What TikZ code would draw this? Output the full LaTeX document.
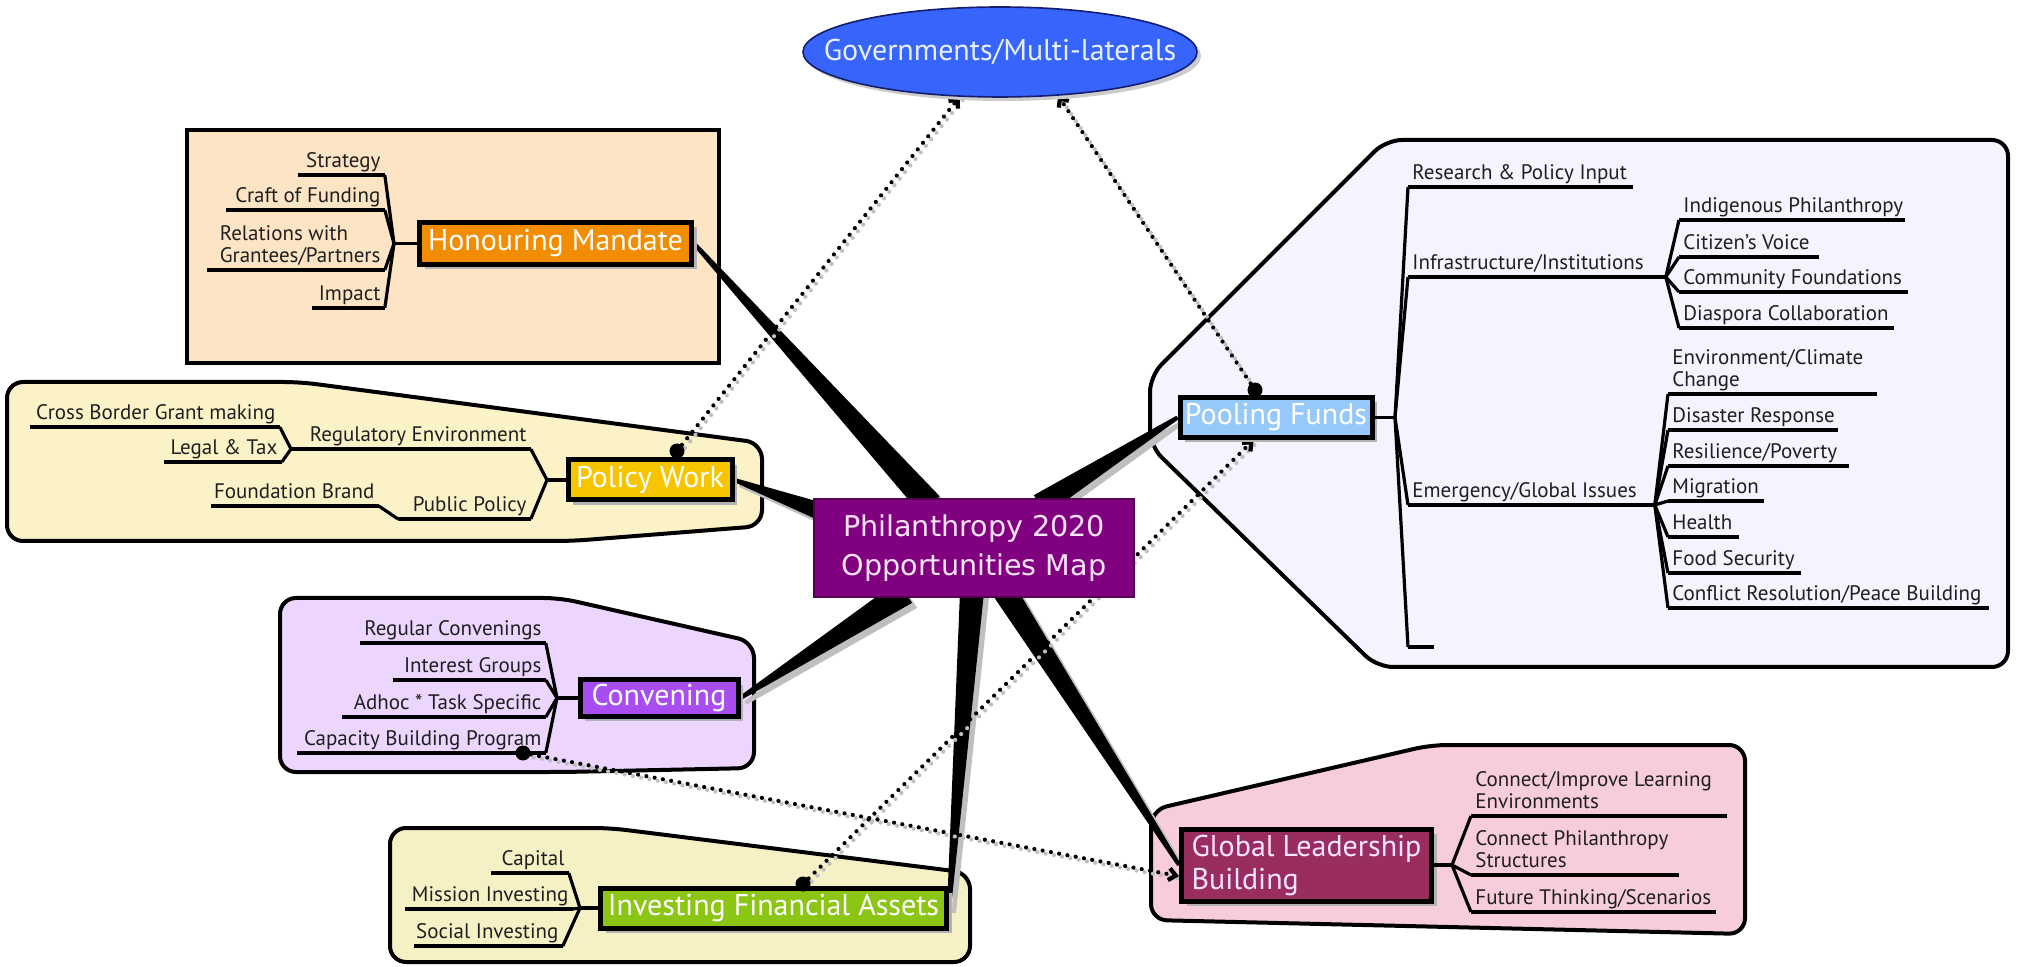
\documentclass[tikz,border=0pt]{standalone}
\usepackage{fontspec}
\setmainfont{PT Sans}
\newfontfamily\dvsans{DejaVu Sans}
\usetikzlibrary{shapes.geometric,calc,arrows.meta,shadows}
\definecolor{hmpanel}{RGB}{253,228,196}
\definecolor{pwpanel}{RGB}{252,242,200}
\definecolor{cvpanel}{RGB}{236,214,255}
\definecolor{ifapanel}{RGB}{245,241,196}
\definecolor{pfpanel}{RGB}{244,243,255}
\definecolor{glbpanel}{RGB}{248,205,219}
\definecolor{hmbox}{RGB}{242,140,0}
\definecolor{pwbox}{RGB}{247,196,0}
\definecolor{cvbox}{RGB}{168,78,240}
\definecolor{ifabox}{RGB}{140,198,20}
\definecolor{pfbox}{RGB}{150,200,250}
\definecolor{glbbox}{RGB}{153,45,95}
\definecolor{ctrfill}{RGB}{128,0,128}
\definecolor{ctrborder}{RGB}{80,0,80}
\definecolor{ctrtext}{RGB}{255,228,255}
\definecolor{govfill}{RGB}{55,100,250}
\definecolor{govborder}{RGB}{20,30,110}
\definecolor{govtext}{RGB}{232,240,255}
\pgfdeclarelayer{bg}
\pgfdeclarelayer{mid}
\pgfsetlayers{bg,mid,main}
% label with underline: name, left x, right x, underline y, alignment (l/r), text
\newcommand\mylab[6]{%
  \pgfmathsetmacro\labw{(#3-#2)/2-4}%
  \node[labtext,anchor=south west] (#1) at (#2,#4) {\makebox[\labw pt][#5]{#6}};%
  \draw[uline] (#1.south west) -- (#1.south east);}
% tapered connector: thin end, thick end, thin half width, thick half width
\newcommand\mytaper[4]{%
  \fill[black!25, transform canvas={shift={(2.5pt,-2.5pt)}}] ($(#1)!#3!90:(#2)$) -- ($(#1)!#3!-90:(#2)$) -- ($(#2)!#4!90:(#1)$) -- ($(#2)!#4!-90:(#1)$) -- cycle;%
  \fill[black] ($(#1)!#3!90:(#2)$) -- ($(#1)!#3!-90:(#2)$) -- ($(#2)!#4!90:(#1)$) -- ($(#2)!#4!-90:(#1)$) -- cycle;}
\newcommand\twolines[2]{\begin{tabular}[b]{@{}l@{}}#1\\#2\end{tabular}}
\begin{document}
\begin{tikzpicture}[x=0.5pt,y=-0.5pt,
  labtext/.style={font=\fontsize{10.5}{11}\selectfont, text=black!88, inner xsep=2pt, inner ysep=0pt, text depth=3.5pt},
  uline/.style={line width=1.6pt},
  brline/.style={line width=1.6pt},
  panelshape/.style={draw=black, line width=2pt, rounded corners=8pt},
  mainbox/.style={draw=black, line width=2.5pt, inner sep=0pt, text=white, font=\fontsize{15}{16.5}\selectfont, drop shadow={shadow xshift=2.5pt, shadow yshift=-2.5pt, fill=black!30, opacity=1}},
  dotnode/.style={circle, fill=black, inner sep=0pt, minimum size=7.5pt},
  dotconn/.style={line width=2.1pt, line cap=round, dash pattern=on 0pt off 4.2pt, -{Straight Barb[length=3.5pt,width=6pt]}},
  dotsh/.style={line width=2.1pt, line cap=round, dash pattern=on 0pt off 4.2pt, draw=black!25}]
\useasboundingbox (0,0) rectangle (2019,967);

% ---------- panels ----------
\begin{pgfonlayer}{bg}
\fill[white] (0,0) rectangle (2019,967);
\draw[panelshape, sharp corners, fill=hmpanel] (187,130) rectangle (719,363);
\draw[panelshape, fill=pwpanel] (7,460) -- (7,382) -- (300,382) -- (762,443) -- (762,526) -- (572,541) -- (7,541) -- cycle;
\draw[panelshape, fill=cvpanel] (280,690) -- (280,598) -- (560,598) -- (754,642) -- (754,768) -- (565,772) -- (280,772) -- cycle;
\draw[panelshape, fill=ifapanel] (390,900) -- (390,828) -- (610,828) -- (970,873) -- (970,962) -- (390,962) -- cycle;
\draw[panelshape, fill=pfpanel] (1150,410) -- (1150,376) -- (1386,140) -- (2008,140) -- (2008,667) -- (1377,667) -- (1150,446) -- cycle;
\draw[panelshape, fill=glbpanel] (1151,860) -- (1151,810) -- (1431,745) -- (1745,745) -- (1745,934) -- (1151,920) -- cycle;
\end{pgfonlayer}

% ---------- main nodes ----------
\node[ellipse, draw=govborder, line width=0.8pt, fill=govfill, minimum width=197pt, minimum height=45pt, inner sep=0pt, text=govtext, font=\fontsize{15}{17}\selectfont, drop shadow={shadow xshift=2pt, shadow yshift=-2pt, fill=black!20, opacity=1}] (gov) at (1000,52) {\makebox[0pt]{Governments/Multi-laterals}};
\node[draw=ctrborder, line width=0.8pt, fill=ctrfill, minimum width=160pt, minimum height=49pt, inner sep=0pt, text=ctrtext, align=center, font=\dvsans\fontsize{14.3}{19.5}\selectfont] (ctr) at (974,548) {Philanthropy 2020\\Opportunities Map};
\node[mainbox, fill=hmbox, minimum width=136pt, minimum height=21pt] (hm) at (555.5,243.5) {Honouring Mandate};
\node[mainbox, fill=pwbox, minimum width=82pt, minimum height=20pt] (pw) at (650,480) {Policy Work};
\node[mainbox, fill=cvbox, minimum width=79pt, minimum height=18pt] (cv) at (659,698) {Convening};
\node[mainbox, fill=ifabox, minimum width=173pt, minimum height=20pt] (ifa) at (773.5,908) {Investing Financial Assets};
\node[mainbox, fill=pfbox, minimum width=96pt, minimum height=20pt] (pf) at (1276,417.5) {Pooling Funds};
\node[mainbox, fill=glbbox, minimum width=125pt, minimum height=36pt, align=left, text=ctrtext] (glb) at (1306.5,865) {Global Leadership\\Building};

% ---------- labels ----------
\mylab{str}{298}{384}{175}{r}{Strategy}
\mylab{cof}{226}{384}{210}{r}{Craft of Funding}
\mylab{rel}{207}{384}{270}{r}{\twolines{Relations with}{Grantees/Partners}}
\mylab{imp}{312}{384}{308}{r}{Impact}

\mylab{cbg}{30}{279}{427}{r}{Cross Border Grant making}
\mylab{ltx}{164}{281}{462}{r}{Legal \& Tax}
\mylab{reg}{291}{530}{449}{r}{Regulatory Environment}
\mylab{fb}{211}{378}{506}{r}{Foundation Brand}
\mylab{pp}{398}{530}{519}{r}{Public Policy}

\mylab{rc}{360}{545}{643}{r}{Regular Convenings}
\mylab{ig}{393}{545}{680}{r}{Interest Groups}
\mylab{ats}{342}{545}{717}{r}{Adhoc * Task Specific}
\mylab{cbp}{297}{545}{753}{r}{Capacity Building Program}

\mylab{cap}{491}{568}{873}{r}{Capital}
\mylab{mi}{405}{572}{909}{r}{Mission Investing}
\mylab{si}{414}{562}{946}{r}{Social Investing}

\mylab{rpi}{1408}{1632}{187}{l}{Research \& Policy Input}
\mylab{inf}{1408}{1665}{277}{l}{Infrastructure/Institutions}
\mylab{egi}{1408}{1654}{505}{l}{Emergency/Global Issues}
\mylab{stub}{1408}{1433}{647}{l}{}
\mylab{ip}{1679}{1904}{220}{l}{Indigenous Philanthropy}
\mylab{cvo}{1679}{1818}{257}{l}{Citizen's Voice}
\mylab{cf}{1679}{1907}{292}{l}{Community Foundations}
\mylab{dc}{1679}{1893}{328}{l}{Diaspora Collaboration}
\mylab{ecc}{1668}{1876}{394}{l}{\twolines{Environment/Climate}{Change}}
\mylab{dr}{1668}{1837}{430}{l}{Disaster Response}
\mylab{rp}{1668}{1848}{466}{l}{Resilience/Poverty}
\mylab{mig}{1668}{1763}{501}{l}{Migration}
\mylab{hl}{1668}{1738}{537}{l}{Health}
\mylab{fs}{1668}{1800}{573}{l}{Food Security}
\mylab{cr}{1668}{1988}{608}{l}{Conflict Resolution/Peace Building}

\mylab{cil}{1471}{1726}{816}{l}{\twolines{Connect/Improve Learning}{Environments}}
\mylab{cps}{1471}{1678}{875}{l}{\twolines{Connect Philanthropy}{Structures}}
\mylab{fts}{1471}{1715}{912}{l}{Future Thinking/Scenarios}

% ---------- junctions and branch lines ----------
\coordinate (jhm) at (394,243.5);
\coordinate (jpw) at (547,480);
\coordinate (jcv) at (557,698);
\coordinate (jifa) at (580,908);
\coordinate (jpf) at (1395,417.5);
\coordinate (jglb) at (1452,865);

\draw[brline] (str.south east) -- (jhm);
\draw[brline] (cof.south east) -- (jhm);
\draw[brline] (rel.south east) -- (jhm);
\draw[brline] (imp.south east) -- (jhm);
\draw[brline] (jhm) -- (hm.west);

\draw[brline] (cbg.south east) -- (reg.south west);
\draw[brline] (ltx.south east) -- (reg.south west);
\draw[brline] (fb.south east) -- (pp.south west);
\draw[brline] (reg.south east) -- (jpw);
\draw[brline] (pp.south east) -- (jpw);
\draw[brline] (jpw) -- (pw.west);

\draw[brline] (rc.south east) -- (jcv);
\draw[brline] (ig.south east) -- (jcv);
\draw[brline] (ats.south east) -- (jcv);
\draw[brline] (cbp.south east) -- (jcv);
\draw[brline] (jcv) -- (cv.west);

\draw[brline] (cap.south east) -- (jifa);
\draw[brline] (mi.south east) -- (jifa);
\draw[brline] (si.south east) -- (jifa);
\draw[brline] (jifa) -- (ifa.west);

\draw[brline] (pf.east) -- (jpf);
\draw[brline] (jpf) -- (rpi.south west);
\draw[brline] (jpf) -- (inf.south west);
\draw[brline] (jpf) -- (egi.south west);
\draw[brline] (jpf) -- (stub.south west);
\foreach \c in {ip,cvo,cf,dc} \draw[brline] (inf.south east) -- (\c.south west);
\foreach \c in {ecc,dr,rp,mig,hl,fs,cr} \draw[brline] (egi.south east) -- (\c.south west);

\draw[brline] (glb.east) -- (jglb);
\foreach \c in {cil,cps,fts} \draw[brline] (jglb) -- (\c.south west);

% ---------- dots ----------
\node[dotnode] (d1) at (677,451) {};
\node[dotnode] (d2) at (1255,390) {};
\node[dotnode] (d3) at (523,753) {};
\node[dotnode] (d4) at (803,884) {};

% ---------- tapered connectors and dotted links ----------
\coordinate (bhm) at (930,505);
\coordinate (bpf) at (1040,505);
\coordinate (bpw) at (822,512);
\coordinate (bcv) at (905,592);
\coordinate (bifa) at (972,592);
\coordinate (bglb) at (1005,592);
\begin{pgfonlayer}{mid}
\mytaper{hm.east}{bhm}{1pt}{6.5pt}
\mytaper{pf.west}{bpf}{1pt}{5.8pt}
\mytaper{pw.east}{bpw}{1pt}{4.5pt}
\mytaper{cv.east}{bcv}{1pt}{6.5pt}
\mytaper{ifa.east}{bifa}{1pt}{6pt}
\mytaper{glb.west}{bglb}{1pt}{6pt}

\draw[dotsh, transform canvas={shift={(1.5pt,-1.5pt)}}] (d1) -- (gov.-132);
\draw[dotsh, transform canvas={shift={(1.5pt,-1.5pt)}}] (d2) -- (gov.-37);
\draw[dotsh, transform canvas={shift={(1.5pt,-1.5pt)}}] (d3) -- (glb.185);
\draw[dotsh, transform canvas={shift={(1.5pt,-1.5pt)}}] (d4) -- (pf.-135);
\draw[dotconn] (d1) -- (gov.-132);
\draw[dotconn] (d2) -- (gov.-37);
\draw[dotconn] (d3) -- (glb.185);
\draw[dotconn] (d4) -- (pf.-135);
\end{pgfonlayer}
\end{tikzpicture}
\end{document}
